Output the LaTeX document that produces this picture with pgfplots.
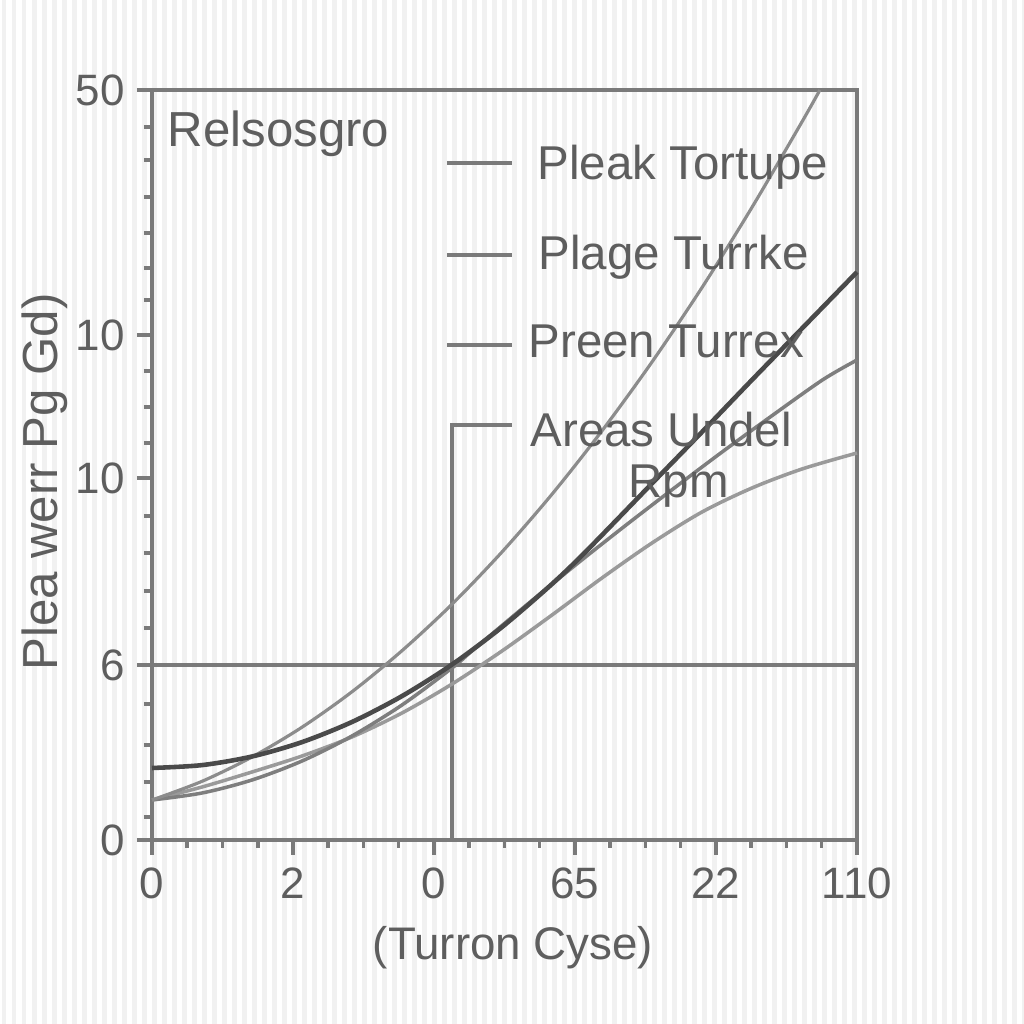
\documentclass[border=0pt]{standalone}
\usepackage{fontspec}
\setmainfont{Liberation Sans}
\usepackage{pgfplots}
\pgfplotsset{compat=1.18}
\definecolor{axisgray}{HTML}{7A7A7A}
\definecolor{txtgray}{HTML}{5E5E5E}
\definecolor{cA}{HTML}{8C8C8C}
\definecolor{cB}{HTML}{4A4A4A}
\definecolor{cC}{HTML}{7E7E7E}
\definecolor{cD}{HTML}{9A9A9A}
\definecolor{stripe}{HTML}{F1F1F1}
\begin{document}
\begin{tikzpicture}
\useasboundingbox (0,0) rectangle (102.4mm,102.4mm);
\fill[white] (0,0) rectangle (102.4mm,102.4mm);
\foreach \i in {0,...,102} {\fill[stripe] (\i mm+0.2mm,0) rectangle ++(0.45mm,102.4mm);}
\begin{axis}[
  at={(15.2mm,18.4mm)}, anchor=south west,
  scale only axis, width=70.5mm, height=75mm,
  xmin=0, xmax=5, ymin=0, ymax=750,
  clip=false,
  axis line style={draw=axisgray, line width=1.1pt},
  xtick={0,1,2,3,4,5}, xticklabels={0,2,0,65,22,110},
  minor x tick num=3,
  ytick={0,175,362,505,750}, yticklabels={0,6,10,10,50},
  minor ytick={23,58,95,136,212,249,287,324,397,433,469,540,572,607,643,680,713},
  tick align=outside, tick pos=left,
  major tick length=1.5mm, minor tick length=0.8mm,
  every tick/.style={draw=axisgray, line width=1pt},
  /pgf/number format/assume math mode=true,
  ticklabel style={font=\fontsize{12.5}{14}\selectfont, text=txtgray},
]
\addplot[draw=axisgray, line width=1.1pt] coordinates {(0,175) (5,175)};
\addplot[draw=axisgray, line width=1.1pt] coordinates {(2.553,415) (2.128,415) (2.128,0)};
\addplot[draw=axisgray, line width=1.1pt] coordinates {(2.092,677) (2.553,677)};
\addplot[draw=axisgray, line width=1.1pt] coordinates {(2.092,585) (2.553,585)};
\addplot[draw=axisgray, line width=1.1pt] coordinates {(2.092,495) (2.553,495)};
% D light lower
\addplot[smooth, draw=cD, line width=1pt] coordinates {
 (0,40) (0.355,53) (0.709,68) (1.064,84) (1.418,103) (1.773,127) (2.128,156) (2.482,189) (2.837,225) (3.191,262) (3.546,297) (3.901,328) (4.255,352) (4.610,371) (5,387)};
% C medium
\addplot[smooth, draw=cC, line width=1pt] coordinates {
 (0,40) (0.355,47) (0.709,60) (1.064,79) (1.418,104) (1.773,135) (2.128,172) (2.277,190) (2.631,232) (2.986,273) (3.340,312.5) (3.695,351) (4.050,388.7) (4.404,425) (4.759,460.4) (5,480)};
% A steep
\addplot[smooth, draw=cA, line width=0.9pt] coordinates {
 (0,40) (0.355,58.7) (0.709,83) (1.064,112.8) (1.418,148.2) (1.773,189.3) (2.128,235.8) (2.482,288) (2.837,345.8) (3.191,409.1) (3.546,478) (3.901,552.5) (4.255,632.6) (4.610,718.2) (4.737,750)};
% B dark
\addplot[smooth, draw=cB, line width=1.3pt] coordinates {
 (0,72) (0.355,74.9) (0.709,83.5) (1.064,97.9) (1.418,118) (1.773,143.9) (2.128,175.5) (2.482,212.9) (2.837,256) (3.085,289.6) (3.532,354.5) (3.887,406) (4.241,458) (4.596,509.5) (5,568)};
\end{axis}
\begin{scope}[every node/.style={text=txtgray, inner sep=0pt}]
\node[anchor=base west, font=\fontsize{14}{16}\selectfont] at (16.7mm,87.7mm) {Relsosgro};
\node[anchor=base west, font=\fontsize{13.5}{16}\selectfont] at (53.7mm,84.4mm) {Pleak Tortupe};
\node[anchor=base west, font=\fontsize{13.5}{16}\selectfont] at (53.8mm,75.4mm) {Plage Turrke};
\node[anchor=base west, font=\fontsize{13.5}{16}\selectfont] at (52.8mm,66.6mm) {Preen Turrex};
\node[anchor=base west, font=\fontsize{13.5}{16}\selectfont] at (53.0mm,57.7mm) {Areas Undel};
\node[anchor=base west, font=\fontsize{13.5}{16}\selectfont] at (62.8mm,52.6mm) {Rpm};
\node[rotate=90, font=\fontsize{14}{16}\selectfont] at (4.5mm,54.2mm) {Plea werr Pg Gd)};
\node[anchor=base, font=\fontsize{13}{16}\selectfont] at (51.3mm,6.4mm) {(Turron Cyse)};
\end{scope}
\end{tikzpicture}
\end{document}
